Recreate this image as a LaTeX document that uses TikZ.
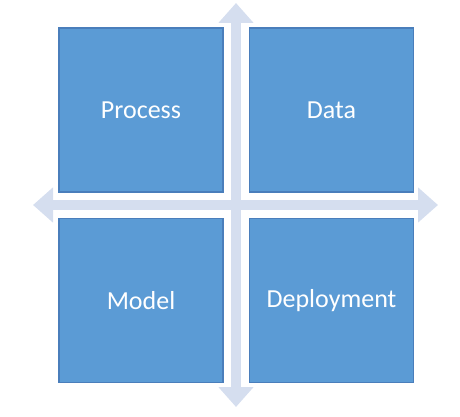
\documentclass[tikz,border=0pt]{standalone}
\usepackage{fontspec}
\setmainfont{Carlito}
\usepackage{xcolor}
\usetikzlibrary{positioning,arrows.meta}

\definecolor{boxblue}{HTML}{5B9BD5}
\definecolor{boxedge}{HTML}{4A7EBB}
\definecolor{axisblue}{HTML}{D5DEEF}

\begin{document}
\begin{tikzpicture}[
    x=1pt, y=1pt,
    quad/.style={draw=boxedge, fill=boxblue, line width=1.2pt, minimum width=164pt, minimum height=164pt, inner sep=0pt, text=white, font=\fontsize{26}{30}\selectfont},
    axis/.style={-{Triangle[width=34pt,length=20pt]}, draw=axisblue, line width=10pt}
]
\useasboundingbox (0,0) rectangle (460,416);

\coordinate (centre) at (236,211);
\coordinate (north)  at (236,413);
\coordinate (south)  at (236,9);
\coordinate (west)   at (33,211);
\coordinate (east)   at (438,211);

\draw[axis] (centre) -- (north);
\draw[axis] (centre) -- (south);
\draw[axis] (centre) -- (west);
\draw[axis] (centre) -- (east);

\node[quad] (process) at (141,306)     {Process};
\node[quad] (data)    at (331.5,306)   {Data};
\node[quad] (model)   at (141,115.5)   {Model};
\node[quad] (deploy)  at (331.5,115.5) {Deployment};
\end{tikzpicture}
\end{document}
